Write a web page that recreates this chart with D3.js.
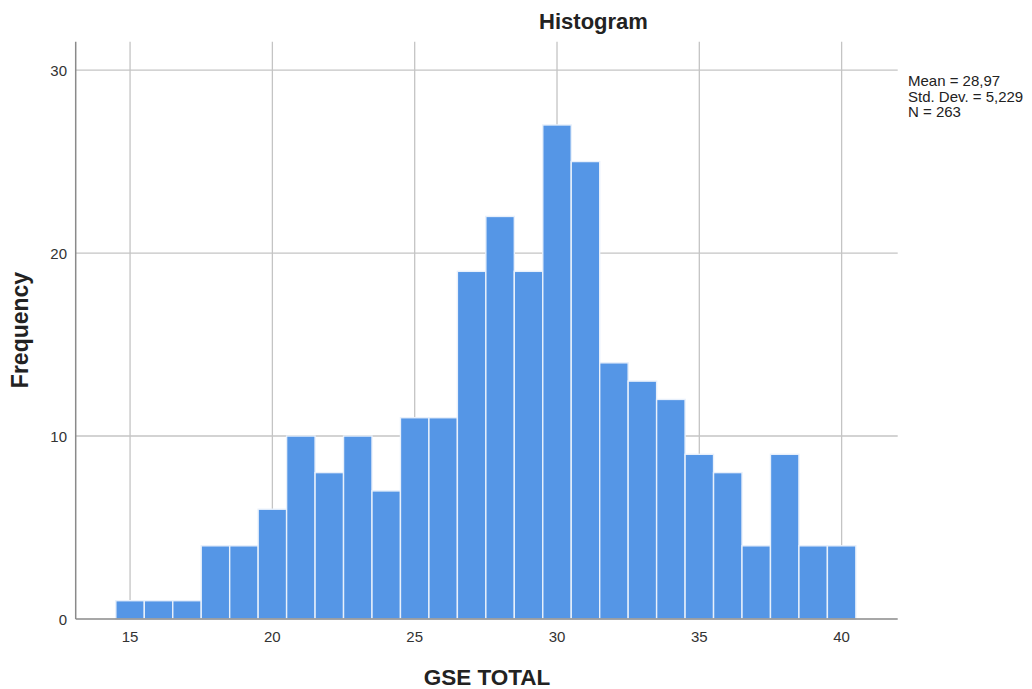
<!DOCTYPE html>
<html><head><meta charset="utf-8">
<script src="https://cdn.jsdelivr.net/npm/d3@7"></script>
<style>body{margin:0;background:#fff;}svg{display:block;font-family:"Liberation Sans",Arial,sans-serif;}</style>
</head><body>
<svg id="c" width="1032" height="689"></svg>
<script>
const binCenters = [15,16,17,18,19,20,21,22,23,24,25,26,27,28,29,30,31,32,33,34,35,36,37,38,39,40];
const frequencies = [1,1,1,4,4,6,10,8,10,7,11,11,19,22,19,27,25,14,13,12,9,8,4,9,4,4];
const xTicks = [15,20,25,30,35,40];
const yTicks = [0,10,20,30];
const statsLines = ["Mean = 28,97","Std. Dev. = 5,229","N = 263"];

const svg = d3.select("#c");
const pL = 75.7, pR = 897.7, pT = 41.7, pB = 619;
const x = d3.scaleLinear().domain([13.09, 41.97]).range([pL, pR]);
const y = d3.scaleLinear().domain([0, 31.55]).range([pB, pT]);

// grid
svg.append("g").selectAll("line").data(xTicks).join("line")
  .attr("x1", d => x(d)).attr("x2", d => x(d)).attr("y1", pT).attr("y2", pB)
  .attr("stroke", "#c4c4c4").attr("stroke-width", 1.3);
svg.append("g").selectAll("line").data(yTicks.filter(d => d > 0)).join("line")
  .attr("x1", pL).attr("x2", pR).attr("y1", d => y(d)).attr("y2", d => y(d))
  .attr("stroke", "#c4c4c4").attr("stroke-width", 1.3);

// bars
svg.append("g").selectAll("rect").data(binCenters).join("rect")
  .attr("x", d => x(d - 0.5)).attr("width", d => x(d + 0.5) - x(d - 0.5))
  .attr("y", (d, i) => y(frequencies[i])).attr("height", (d, i) => pB - y(frequencies[i]))
  .attr("fill", "#5596e6").attr("stroke", "#e8f0fb").attr("stroke-width", 1.4);

// axes lines
svg.append("line").attr("x1", pL).attr("x2", pL).attr("y1", pT).attr("y2", pB)
  .attr("stroke", "#8a8a8a").attr("stroke-width", 1.5);
svg.append("line").attr("x1", pL).attr("x2", pR).attr("y1", pB).attr("y2", pB)
  .attr("stroke", "#8a8a8a").attr("stroke-width", 1.5);

// tick labels
svg.append("g").selectAll("text").data(xTicks).join("text")
  .attr("x", d => x(d)).attr("y", 642).attr("text-anchor", "middle")
  .attr("font-size", 15).attr("fill", "#333").text(d => d);
svg.append("g").selectAll("text").data(yTicks).join("text")
  .attr("x", 67).attr("y", d => y(d) + 5.5).attr("text-anchor", "end")
  .attr("font-size", 15).attr("fill", "#333").text(d => d);

// titles
svg.append("text").attr("x", 593.5).attr("y", 29).attr("text-anchor", "middle")
  .attr("font-size", 22).attr("font-weight", "bold").attr("fill", "#222").text("Histogram");
svg.append("text").attr("x", 487).attr("y", 685).attr("text-anchor", "middle")
  .attr("font-size", 22.5).attr("font-weight", "bold").attr("fill", "#222").text("GSE TOTAL");
svg.append("text").attr("transform", "translate(28,330) rotate(-90)").attr("text-anchor", "middle")
  .attr("font-size", 23).attr("font-weight", "bold").attr("fill", "#222").text("Frequency");

// stats
svg.append("g").selectAll("text").data(statsLines).join("text")
  .attr("x", 908).attr("y", (d, i) => 86 + i * 15.5)
  .attr("font-size", 15).attr("fill", "#222").text(d => d);
</script>
</body></html>
